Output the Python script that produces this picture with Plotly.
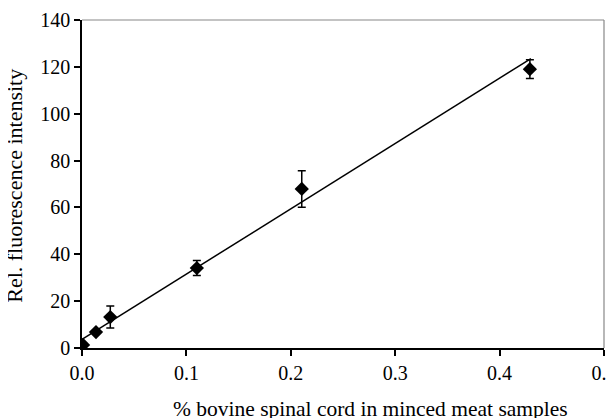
import plotly.graph_objects as go

# Data
conc = [0.001, 0.0134, 0.0271, 0.110, 0.2105, 0.429]
intensity = [1.3, 6.8, 13.2, 34.1, 67.9, 119.0]
err = [0.8, 0.8, 4.7, 3.2, 7.8, 4.0]

fit_intercept = 3.7
fit_slope = 278.6
fit_x = [0.0, 0.43]
fit_y = [fit_intercept + fit_slope * v for v in fit_x]

x_ticks = [0.0, 0.1, 0.2, 0.3, 0.4, 0.5]
y_ticks = [0, 20, 40, 60, 80, 100, 120, 140]

FONT = "Liberation Serif"

fig = go.Figure()
fig.add_trace(go.Scatter(
    x=fit_x, y=fit_y, mode="lines",
    line=dict(color="black", width=1.5), showlegend=False, hoverinfo="skip"))
fig.add_trace(go.Scatter(
    x=conc, y=intensity, mode="markers",
    marker=dict(symbol="diamond", size=11, color="black"),
    error_y=dict(type="data", array=err, visible=True, color="black",
                 thickness=1.5, width=4),
    showlegend=False))

# page body has an 8px default margin, so margins are offset by 8px
fig.update_layout(
    width=614, height=418,
    margin=dict(l=74, r=18, t=12, b=78, autoexpand=False),
    paper_bgcolor="white", plot_bgcolor="white",
    font=dict(family=FONT, size=20, color="black"),
    xaxis=dict(range=[0, 0.5], tickvals=x_ticks, ticktext=[f"{v:.1f}" for v in x_ticks],
               automargin=False,
               showgrid=False, zeroline=False, showline=True, linecolor="black",
               linewidth=1.5, ticks="outside", ticklen=6, tickwidth=1.5,
               tickcolor="black", tickfont=dict(family=FONT, size=20)),
    yaxis=dict(range=[0, 140], tickvals=y_ticks, automargin=False,
               showgrid=False, zeroline=False, showline=True, linecolor="black",
               linewidth=1.5, ticks="outside", ticklen=6, tickwidth=1.5,
               tickcolor="black", tickfont=dict(family=FONT, size=20)),
    shapes=[
        dict(type="line", xref="paper", yref="paper", x0=0, x1=1, y0=1, y1=1,
             line=dict(color="#888888", width=1.2)),
        dict(type="line", xref="paper", yref="paper", x0=1, x1=1, y0=0, y1=1,
             line=dict(color="#888888", width=1.2)),
    ],
    annotations=[
        dict(text="% bovine spinal cord in minced meat samples", xref="paper", yref="paper",
             x=0.552, y=-0.186, xanchor="center", yanchor="middle", showarrow=False,
             font=dict(family=FONT, size=21.5, color="black")),
        dict(text="Rel. fluorescence intensity", xref="paper", yref="paper",
             x=-0.130, y=0.495, xanchor="center", yanchor="middle", textangle=-90,
             showarrow=False, font=dict(family=FONT, size=22, color="black")),
    ],
)

fig.write_html("out.html")
